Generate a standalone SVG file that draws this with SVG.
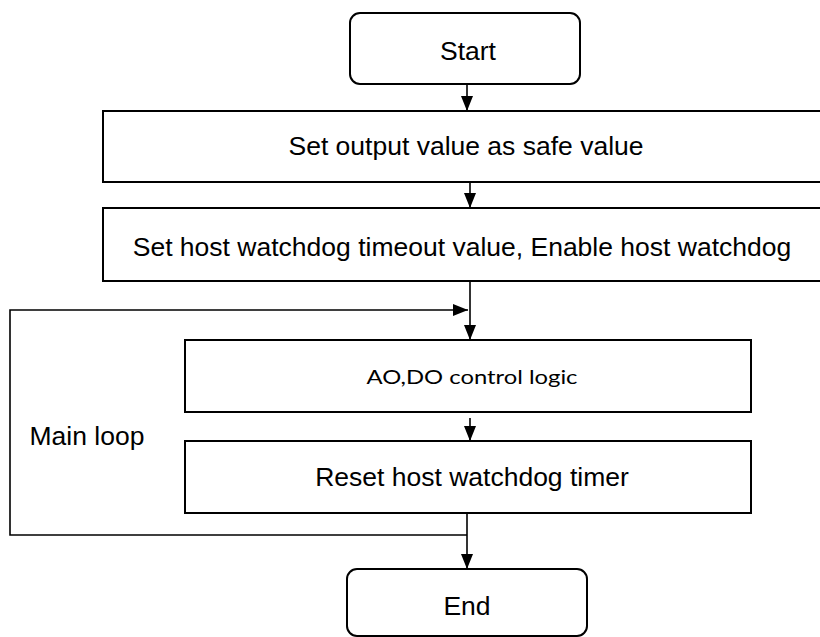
<svg xmlns="http://www.w3.org/2000/svg" width="820" height="637" viewBox="0 0 820 637">
  <defs>
    <style>
      .box { fill: #ffffff; stroke: #000000; stroke-width: 2; }
      .conn { fill: none; stroke: #000000; stroke-width: 1.6; }
      .t { font-family: "Liberation Sans", Arial, sans-serif; font-size: 26.5px; fill: #000000; text-anchor: middle; }
      .tc { font-family: Lato, "Open Sans", sans-serif; font-size: 20px; fill: #000000; text-anchor: middle; }
    </style>
    <marker id="arr" viewBox="0 0 15 12" refX="15" refY="6" markerWidth="15" markerHeight="12" markerUnits="userSpaceOnUse" orient="auto">
      <path d="M0,0 L15,6 L0,12 Z" fill="#000000"/>
    </marker>
  </defs>
  <rect x="0" y="0" width="820" height="637" fill="#ffffff"/>

  <g id="connectors">
    <line class="conn" x1="467" y1="84" x2="467" y2="111" marker-end="url(#arr)"/>
    <line class="conn" x1="470" y1="182" x2="470" y2="208" marker-end="url(#arr)"/>
    <line class="conn" x1="470" y1="281" x2="470" y2="340" marker-end="url(#arr)"/>
    <polyline class="conn" points="467,535 10,535 10,310 468,310" marker-end="url(#arr)"/>
    <line class="conn" x1="470" y1="418" x2="470" y2="441" marker-end="url(#arr)"/>
    <line class="conn" x1="467" y1="513" x2="467" y2="569" marker-end="url(#arr)"/>
  </g>

  <g id="start">
    <rect class="box" x="350" y="13" width="230" height="71" rx="10" ry="10"/>
    <text class="t" x="468" y="60">Start</text>
  </g>

  <g id="set-output">
    <rect class="box" x="103" y="111" width="730" height="71"/>
    <text class="t" x="466" y="155">Set output value as safe value</text>
  </g>

  <g id="set-watchdog">
    <rect class="box" x="103" y="208" width="730" height="73"/>
    <text class="t" x="462" y="256">Set host watchdog timeout value, Enable host watchdog</text>
  </g>

  <g id="control-logic">
    <rect class="box" x="185" y="340" width="566" height="72"/>
    <text class="tc" x="472" y="384" textLength="211" lengthAdjust="spacingAndGlyphs">AO,DO control logic</text>
  </g>

  <g id="reset-watchdog">
    <rect class="box" x="185" y="441" width="566" height="72"/>
    <text class="t" x="472" y="486">Reset host watchdog timer</text>
  </g>

  <g id="main-loop-label">
    <text class="t" x="87" y="445">Main loop</text>
  </g>

  <g id="end">
    <rect class="box" x="347" y="569" width="240" height="67" rx="10" ry="10"/>
    <text class="t" x="467" y="615">End</text>
  </g>
</svg>
